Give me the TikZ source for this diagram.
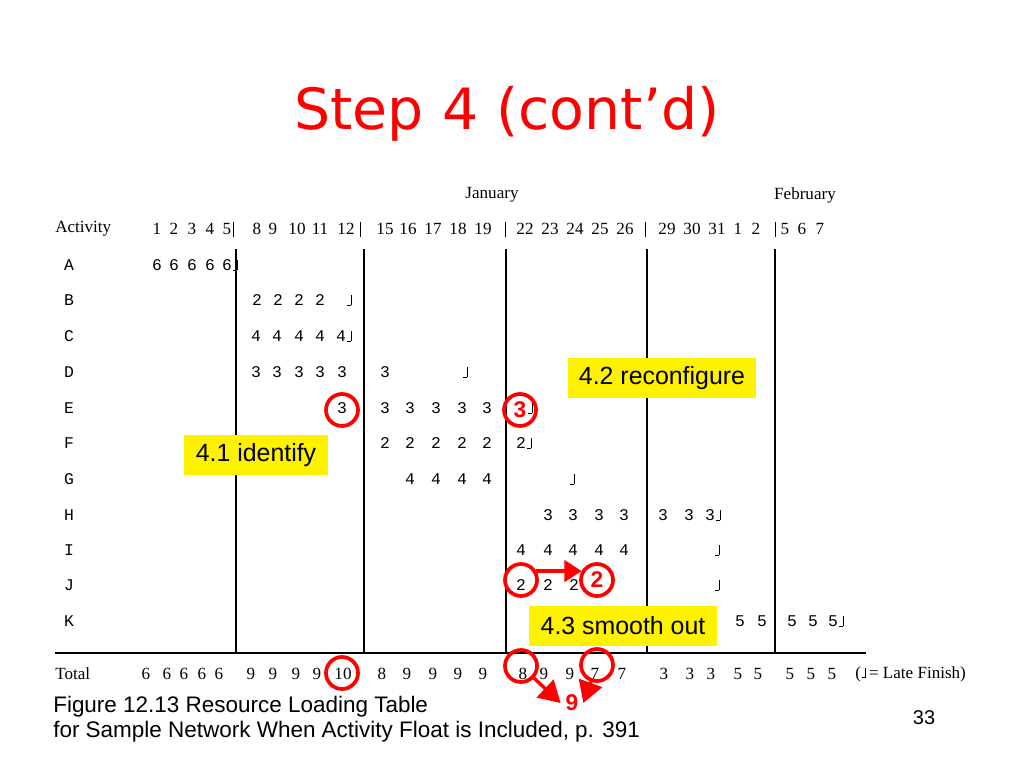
\documentclass[tikz,border=0pt]{standalone}
\usepackage{fontspec}
\setmainfont{Liberation Sans}
\newfontfamily\titlefont{DejaVu Sans}
\newfontfamily\tabfont{Liberation Serif}
\newfontfamily\rowfont{Liberation Mono}
\usetikzlibrary{arrows.meta,positioning}
\newcommand{\lfin}{\kern0.5pt\rule{2.6pt}{0.5pt}\rule{0.6pt}{7.4pt}}
\begin{document}
\begin{tikzpicture}
[x=0.703125pt, y=-0.703125pt,
num/.style={font=\rowfont\fontsize{11.5}{13}\selectfont, inner sep=0pt},
hd/.style={font=\tabfont\fontsize{12}{14}\selectfont, inner sep=0pt},
ring/.style={circle, draw=red, line width=2.6pt, minimum size=22.5pt, inner sep=0pt},
redring/.style={ring, text=red, font=\bfseries\fontsize{16}{18}\selectfont},
note/.style={fill=yellow, font=\fontsize{17.5}{20}\selectfont, inner xsep=8pt, minimum height=28.8pt},
redarrow/.style={-{Triangle[length=12pt,width=15pt]}, red, line width=2.4pt},
bigarrow/.style={redarrow, -{Triangle[length=15pt,width=17pt]}},
tabline/.style={line width=0.8pt}]
\fill[white] (0,0) rectangle (1024,768);
\useasboundingbox (0,0) rectangle (1024,768);

% title
\node (title) at (507,130) [anchor=base, text=red, font=\titlefont\fontsize{40}{46}\selectfont] {Step 4 (cont’d)};

% months and header
\node (jan) at (492,195) [hd] {January};
\node (feb) at (805,195) [hd] {February};
\node (act) at (55,229) [hd, anchor=west] {Activity};
\foreach \x/\d [count=\i] in {157/1,174/2,192/3,210/4,227/5,257/8,273/9,297/10,320/11,346/12,
  385/15,408/16,433/17,458/18,483/19,525/22,550/23,575/24,600/25,625/26,
  667/29,692/30,717/31,738/1,756/2,785/5,802/6,820/7}
  \node (day-\i) at (\x,229) [hd] {\d};
\foreach \x in {233,360,505,645,775}
  \draw[line width=0.5pt] (\x,222) -- (\x,237);

% rule lines
\foreach \x in {236,364,506,647,775}
  \draw[tabline] (\x,249) -- (\x,653);
\draw[tabline] (55,653) -- (866,653);

% activity rows
\foreach \a/\y in {A/265,B/300,C/336,D/372,E/408,F/443,G/479,H/515,I/550,J/585,K/621}
  \node (row-\a) at (69,\y) [num] {\a};

\foreach \x [count=\i] in {157,174,192,210,227} \node (A-\i) at (\x,265) [num] {6};
\node (A-lf) [num, right=0pt of A-5] {\lfin};
\foreach \x [count=\i] in {257,278,299,320} \node (B-\i) at (\x,300) [num] {2};
\node (B-lf) at (349,300) [num] {\lfin};
\foreach \x [count=\i] in {256,277,299,320,341} \node (C-\i) at (\x,336) [num] {4};
\node (C-lf) [num, right=0pt of C-5] {\lfin};
\foreach \x [count=\i] in {256,277,299,320,342,385} \node (D-\i) at (\x,372) [num] {3};
\node (D-lf) at (465,372) [num] {\lfin};
\foreach \x [count=\i] in {342,385,410,436,462,487} \node (E-\i) at (\x,408) [num] {3};
\node (E-lf) at (530,408) [num] {\lfin};
\foreach \x [count=\i] in {385,410,436,462,487,521} \node (F-\i) at (\x,443) [num] {2};
\node (F-lf) [num, right=0pt of F-6] {\lfin};
\foreach \x [count=\i] in {410,436,462,487} \node (G-\i) at (\x,479) [num] {4};
\node (G-lf) at (572,479) [num] {\lfin};
\foreach \x [count=\i] in {548,573,599,624,663,689,710} \node (H-\i) at (\x,515) [num] {3};
\node (H-lf) [num, right=0pt of H-7] {\lfin};
\foreach \x [count=\i] in {521,548,573,599,624} \node (I-\i) at (\x,550) [num] {4};
\node (I-lf) at (717,550) [num] {\lfin};
\foreach \x [count=\i] in {521,548,574} \node (J-\i) at (\x,585) [num] {2};
\node (J-lf) at (717,585) [num] {\lfin};
\foreach \x [count=\i] in {740,762,792,813,833} \node (K-\i) at (\x,621) [num] {5};
\node (K-lf) [num, right=0pt of K-5] {\lfin};

% totals
\node (tot) at (55,674) [hd, anchor=west] {Total};
\foreach \x/\d [count=\i] in {146/6,167/6,184/6,202/6,219/6,251/9,273/9,296/9,317/9,343/10,
  382/8,407/9,433/9,458/9,483/9,523/8,544/9,570/9,595/7,622/7,
  664/3,690/3,711/3,738/5,758/5,790/5,811/5,832/5}
  \node (T-\i) at (\x,674) [hd] {\d};
\node (legend) at (855,674) [hd, anchor=west] {(\lfin\,= Late Finish)};

% notes
\node (identify) at (256,455) [note] {4.1 identify};
\node (reconf) at (662,378) [note] {4.2 reconfigure};
\node (smooth) at (623,626) [note] {4.3 smooth out};

% marks
\node (ring-E) at (342,410) [ring] {};
\node (ring-E2) at (520,410) [redring] {3};
\node (ring-J) at (521,580) [ring] {};
\node (ring-J2) at (597,580) [redring] {2};
\node (ring-T10) at (342,673) [ring] {};
\node (ring-T8) at (521,666) [ring] {};
\node (ring-T7) at (597,665) [ring] {};
\node (nine) at (572,703) [text=red, font=\bfseries\fontsize{16}{18}\selectfont] {9};

\draw[redarrow] (ring-J.30) -- (ring-J2.150);
\draw[bigarrow] (ring-T8) -- (nine.west);
\draw[bigarrow] (ring-T7) -- (nine.east);

% caption
\node (cap1) at (53,712) [anchor=base west, inner sep=0pt, font=\fontsize{15.8}{19}\selectfont] {Figure 12.13 Resource Loading Table};
\node (cap2) at (53,737) [anchor=base west, inner sep=0pt, font=\fontsize{15.8}{19}\selectfont] {for Sample Network When Activity Float is Included, p. 391};
\node (page) at (924,718) [font=\fontsize{14}{16}\selectfont] {33};

\end{tikzpicture}
\end{document}
